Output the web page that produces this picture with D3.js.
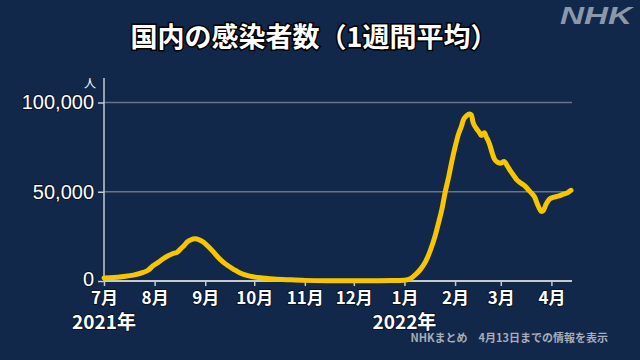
<!DOCTYPE html>
<html>
<head>
<meta charset="utf-8">
<script src="https://cdn.jsdelivr.net/npm/d3@7"></script>
<style>
  html, body { margin: 0; padding: 0; background: #12284a; }
  svg { display: block; }
</style>
</head>
<body>
<svg id="chart" width="640" height="360"></svg>
<script>
// ---- data ----
const dates = [
  "2021-07-01","2021-07-07","2021-07-13","2021-07-19","2021-07-25","2021-07-28","2021-07-31",
  "2021-08-03","2021-08-06","2021-08-09","2021-08-12","2021-08-15","2021-08-17","2021-08-19",
  "2021-08-21","2021-08-23","2021-08-26","2021-08-28","2021-08-31","2021-09-03","2021-09-06",
  "2021-09-09","2021-09-12","2021-09-15","2021-09-19","2021-09-22","2021-09-25","2021-09-29",
  "2021-10-03","2021-10-08","2021-10-13","2021-10-23","2021-11-01","2021-11-15","2021-12-01",
  "2021-12-15","2021-12-25","2022-01-01","2022-01-05","2022-01-08","2022-01-11","2022-01-14",
  "2022-01-17","2022-01-20","2022-01-22","2022-01-24","2022-01-26","2022-01-28","2022-01-30",
  "2022-02-01","2022-02-03","2022-02-05","2022-02-06","2022-02-08","2022-02-10","2022-02-11",
  "2022-02-12","2022-02-14","2022-02-16","2022-02-17","2022-02-19","2022-02-20","2022-02-22",
  "2022-02-24","2022-02-25","2022-02-27","2022-03-01","2022-03-03","2022-03-05","2022-03-07",
  "2022-03-09","2022-03-11","2022-03-13","2022-03-16","2022-03-18","2022-03-20","2022-03-22",
  "2022-03-23","2022-03-25","2022-03-26","2022-03-27","2022-03-29","2022-03-31","2022-04-02",
  "2022-04-05","2022-04-08","2022-04-11","2022-04-13"
];
const cases = [
  1700,1900,2500,3300,4800,6000,8500,
  10300,12300,14000,15300,16300,18100,19800,
  21900,23000,23600,23200,21700,19200,16300,
  13200,10600,8500,6200,4600,3600,2600,
  2000,1500,1100,650,350,200,170,
  180,250,450,1500,3800,6800,11000,
  17500,26000,33000,40500,50000,58000,67000,
  75000,82000,87000,90000,92500,93500,93000,
  89000,85500,83000,81500,83000,81000,77000,
  71000,68500,66500,66000,67000,64500,61500,
  59000,56500,55000,53000,51000,49000,46500,
  44000,40000,39000,39500,43500,46000,46800,
  47500,48500,49500,50800
];
const yTicks = [0, 50000, 100000];
const monthTicks = ["2021-07-01","2021-08-01","2021-09-01","2021-10-01","2021-11-01","2021-12-01",
                    "2022-01-01","2022-02-01","2022-03-01","2022-04-01"];
const monthLabels = ["7月","8月","9月","10月","11月","12月","1月","2月","3月","4月"];
const yearTicks = ["2021-07-01","2022-01-01"];
const yearLabels = ["2021年","2022年"];
const titleText = "国内の感染者数（1週間平均）";
const unitText = "人";
const sourceText = "NHKまとめ　4月13日までの情報を表示";
const domainStart = "2021-07-01";
const domainEnd = "2022-04-13";

// ---- chart ----
(function () {
const parse = d3.timeParse("%Y-%m-%d");
const data = dates.map((d, i) => ({ date: parse(d), value: cases[i] }));

const svg = d3.select("#chart");
const W = 640, H = 360;
const mLeft = 104, mRight = 571, mTop = 78, mBottom = 281;

svg.append("rect").attr("width", W).attr("height", H).attr("fill", "#12284a");

const x = d3.scaleTime().domain([parse(domainStart), parse(domainEnd)]).range([mLeft, mRight]);
const y = d3.scaleLinear().domain([0, 100000]).range([mBottom, 102.5]);

const font = "'Noto Sans CJK JP', 'Noto Sans', sans-serif";

// gridlines
svg.append("g").selectAll("line").data(yTicks.filter(d => d > 0)).join("line")
  .attr("x1", mLeft).attr("x2", mRight + 1)
  .attr("y1", d => y(d)).attr("y2", d => y(d))
  .attr("stroke", "#6a7486").attr("stroke-width", 1.5);

// y axis
const yAxis = svg.append("g").attr("transform", `translate(${mLeft},0)`)
  .call(d3.axisLeft(y).tickValues(yTicks).tickSize(6).tickPadding(4).tickFormat(d3.format(",")));
yAxis.select(".domain").remove();
yAxis.selectAll(".tick line").attr("stroke", "#c4c9d2").attr("stroke-width", 1.5);
yAxis.selectAll(".tick text").attr("fill", "#ffffff")
  .attr("font-family", "'Liberation Sans', Arial, sans-serif").attr("font-size", 20)
  .attr("stroke", "#0a1428").attr("stroke-width", 2).attr("paint-order", "stroke")
  .attr("dy", d => d === 0 ? "0.22em" : "0.32em");
svg.append("line").attr("x1", mLeft).attr("x2", mLeft).attr("y1", mTop).attr("y2", mBottom)
  .attr("stroke", "#c4c9d2").attr("stroke-width", 1.5);

// unit
svg.append("text").attr("x", 90).attr("y", 88).attr("text-anchor", "middle")
  .attr("fill", "#ffffff").attr("font-family", font).attr("font-size", 12).text(unitText);

// x axis
const xAxis = svg.append("g").attr("transform", `translate(0,${mBottom})`)
  .call(d3.axisBottom(x).tickValues(monthTicks.map(parse)).tickSize(5)
    .tickFormat((d, i) => monthLabels[i]).tickPadding(6));
xAxis.select(".domain").attr("stroke", "#c4c9d2").attr("stroke-width", 2)
  .attr("d", `M${mLeft},0H${mRight + 1}`);
xAxis.selectAll(".tick line").attr("stroke", "#c4c9d2").attr("stroke-width", 1.5);
xAxis.selectAll(".tick text").attr("fill", "#ffffff")
  .attr("font-family", font).attr("font-weight", "bold").attr("font-size", 17)
  .attr("stroke", "#0a1428").attr("stroke-width", 2).attr("paint-order", "stroke");

// year labels
svg.append("g").selectAll("text").data(yearTicks).join("text")
  .attr("x", d => x(parse(d))).attr("y", 329).attr("text-anchor", "middle")
  .attr("fill", "#ffffff").attr("font-family", font).attr("font-weight", "bold").attr("font-size", 19)
  .attr("stroke", "#0a1428").attr("stroke-width", 2).attr("paint-order", "stroke")
  .text((d, i) => yearLabels[i]);

// line
const line = d3.line().x(d => x(d.date)).y(d => y(d.value)).curve(d3.curveMonotoneX);
svg.append("path").datum(data).attr("d", line)
  .attr("fill", "none").attr("stroke", "#f7c600").attr("stroke-width", 5)
  .attr("stroke-linejoin", "round").attr("stroke-linecap", "round");

// title
svg.append("text").attr("x", 314).attr("y", 47).attr("text-anchor", "middle")
  .attr("fill", "#ffffff").attr("font-family", font).attr("font-weight", "bold").attr("font-size", 27)
  .attr("stroke", "#000000").attr("stroke-width", 3).attr("paint-order", "stroke")
  .text(titleText);

// NHK logo
svg.append("text").attr("x", 560).attr("y", 24)
  .attr("fill", "#8b98ab").attr("font-family", "'Liberation Sans', Arial, sans-serif")
  .attr("font-weight", "bold").attr("font-style", "italic").attr("font-size", 23)
  .attr("textLength", 72).attr("lengthAdjust", "spacingAndGlyphs").text("NHK");

// source
svg.append("text").attr("x", 608).attr("y", 342).attr("text-anchor", "end")
  .attr("fill", "#a7adb9").attr("font-family", font).attr("font-weight", "bold").attr("font-size", 11)
  .text(sourceText);
})();
</script>
</body>
</html>
